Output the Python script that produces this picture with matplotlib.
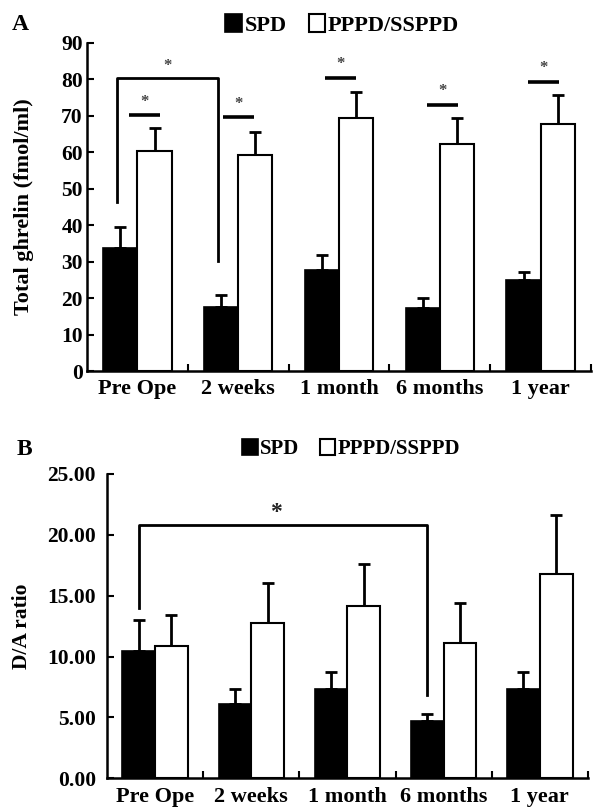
import numpy as np
import matplotlib
matplotlib.use("Agg")
import matplotlib.pyplot as plt

plt.rcParams['font.family'] = ['Liberation Serif', 'DejaVu Serif']
plt.rcParams['font.weight'] = 'bold'

# data
categories = ['Pre Ope', '2 weeks', '1 month', '6 months', '1 year']
series_names = ['SPD', 'PPPD/SSPPD']

ghrelin_spd = [33.8, 17.6, 27.6, 17.2, 24.9]
ghrelin_spd_err = [5.8, 3.3, 4.1, 2.7, 2.3]
ghrelin_pppd = [60.5, 59.3, 69.3, 62.3, 67.7]
ghrelin_pppd_err = [6.3, 6.4, 7.3, 7.0, 8.0]

da_spd = [10.46, 6.08, 7.31, 4.71, 7.31]
da_spd_err = [2.54, 1.23, 1.40, 0.57, 1.40]
da_pppd = [10.87, 12.76, 14.18, 11.14, 16.81]
da_pppd_err = [2.57, 3.31, 3.40, 3.24, 4.83]

# significance marks in panel A (height of each short bar)
sig_heights_a = [70.2, 69.6, 80.5, 73.0, 79.4]
sig_offsets_a = [0.07, 0.0, 0.015, 0.03, 0.03]

W = 0.34
x = np.arange(len(categories)) + 0.5

fig = plt.figure(figsize=(5.93, 8.08), dpi=100)


def draw_panel(ax, spd, spd_err, pppd, pppd_err, ymax, yticks, fmt, ypad,
               legend_xy, legend_size):
    b1 = ax.bar(x - W / 2, spd, W, color='black', edgecolor='black', linewidth=1.2,
                label=series_names[0], zorder=2)
    b2 = ax.bar(x + W / 2, pppd, W, color='white', edgecolor='black', linewidth=1.5,
                label=series_names[1], zorder=2)
    ax.errorbar(x - W / 2, spd, yerr=[np.zeros(len(spd)), spd_err], fmt='none',
                ecolor='black', elinewidth=2, capsize=4, capthick=2, zorder=1)
    ax.errorbar(x + W / 2, pppd, yerr=[np.zeros(len(pppd)), pppd_err], fmt='none',
                ecolor='black', elinewidth=2, capsize=4, capthick=2, zorder=1)

    ax.set_xlim(0, len(categories))
    ax.set_ylim(0, ymax)
    ax.set_yticks(yticks)
    ax.set_yticklabels([fmt.format(v) for v in yticks])
    ax.set_xticks(x)
    ax.set_xticklabels(categories)
    ax.set_xticks(np.arange(1, len(categories) + 1), minor=True)
    ax.tick_params(axis='x', which='major', length=0, labelsize=16, pad=6)
    ax.tick_params(axis='x', which='minor', direction='in', length=5, width=1.5)
    ax.tick_params(axis='y', direction='in', length=5, width=1.5, labelsize=15.5, pad=ypad)
    for s in ['top', 'right']:
        ax.spines[s].set_visible(False)
    for s in ['left', 'bottom']:
        ax.spines[s].set_linewidth(1.8)
    for lab in ax.get_xticklabels() + ax.get_yticklabels():
        lab.set_fontweight('bold')

    fig.legend(handles=[b1, b2], loc='center', bbox_to_anchor=legend_xy, ncol=2,
               frameon=False, handlelength=0.75, handleheight=0.85, handletextpad=0.1,
               columnspacing=1.0, prop={'weight': 'bold', 'size': legend_size})


# ---- panel A
axA = fig.add_axes([0.1467, 0.5408, 0.850, 0.406])
draw_panel(axA, ghrelin_spd, ghrelin_spd_err, ghrelin_pppd, ghrelin_pppd_err,
           90, np.arange(0, 91, 10), '{:.0f}', 3, (0.577, 0.969), 16)

for xi, h, off in zip(x, sig_heights_a, sig_offsets_a):
    c = xi + off
    axA.plot([c - 0.155, c + 0.155], [h, h], color='black', lw=2.6, solid_capstyle='butt')
    axA.text(c, h + 3.7, '*', ha='center', va='center', fontsize=12, color='#444444')

# bracket Pre Ope vs 2 weeks (SPD)
bx0 = x[0] - W / 2 - 0.03
bx1 = x[1] - W / 2 - 0.03
axA.plot([bx0, bx0, bx1, bx1], [46.4, 80.5, 80.5, 30.2], color='black', lw=2)
axA.text((bx0 + bx1) / 2, 83.8, '*', ha='center', va='center', fontsize=12, color='#444444')

axA.set_ylabel('Total ghrelin (fmol/ml)', fontsize=16, fontweight='bold')
axA.yaxis.set_label_coords(-0.105, 0.5)
fig.text(12 / 593, 1 - 30 / 808, 'A', fontsize=17, fontweight='bold')

# ---- panel B
axB = fig.add_axes([0.1804, 0.0368, 0.811, 0.3766])
draw_panel(axB, da_spd, da_spd_err, da_pppd, da_pppd_err,
           25, np.arange(0, 25.1, 5), '{:.2f}', 8, (0.592, 0.4443), 15)

cx0 = x[0] - W / 2
cx1 = x[3] - W / 2
axB.plot([cx0, cx0, cx1, cx1], [13.97, 20.81, 20.81, 6.84], color='black', lw=2)
axB.text(1.76, 21.8, '*', ha='center', va='center', fontsize=17, color='#222222')

axB.set_ylabel('D/A ratio', fontsize=15.5, fontweight='bold')
axB.yaxis.set_label_coords(-0.156, 0.5)
fig.text(17 / 593, 1 - 455 / 808, 'B', fontsize=17, fontweight='bold')

fig.savefig('out.png', dpi=100)
